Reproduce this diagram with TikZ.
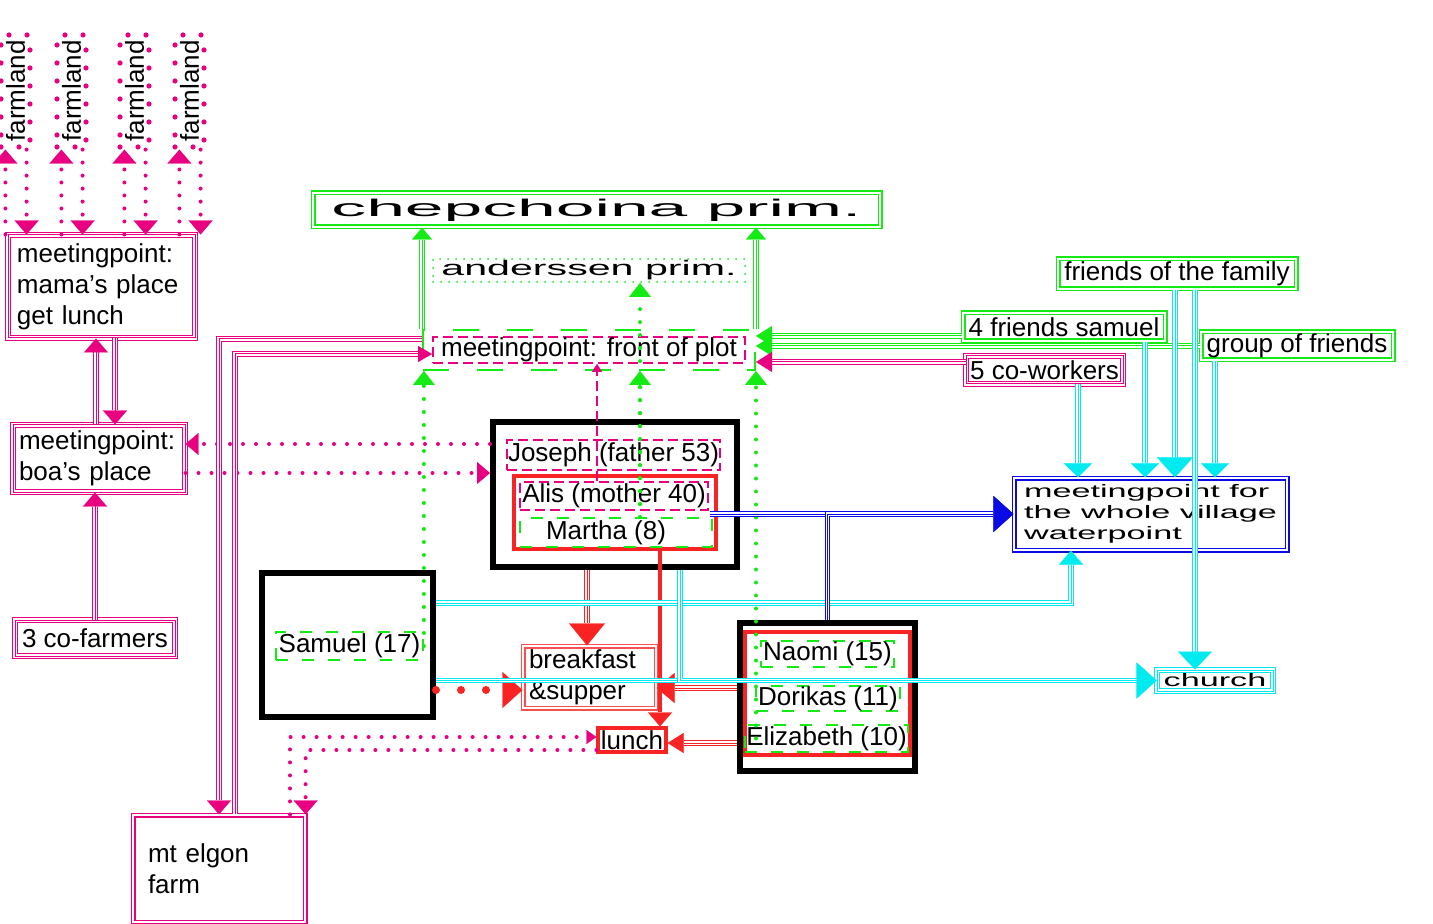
\documentclass[tikz,border=0pt]{standalone}
\usepackage{graphicx}
\usepackage{fontspec}
\setmainfont{Liberation Sans}
\usetikzlibrary{arrows.meta}
\usepackage{xcolor}

\definecolor{mpink}{RGB}{232,0,128}
\definecolor{lgreen}{RGB}{20,235,20}
\definecolor{lcyan}{RGB}{0,235,240}
\definecolor{lblue}{RGB}{10,10,230}
\definecolor{lred}{RGB}{250,35,35}
\newcommand{\widetext}[2]{\scalebox{#1}[1]{#2}}

\begin{document}
\begin{tikzpicture}[x=0.5pt, y=-0.5pt,
    every node/.style={inner sep=0pt, font=\fontsize{13}{15.5}\selectfont},
    boxsize/.style 2 args={minimum width=#1, minimum height=#2},
    tbox/.style={draw=#1, line width=0.5pt, preaction={draw=#1, double=white, double distance=2pt, line width=0.5pt}},
    dbox/.style={draw=#1, line width=0.6pt, double=white, double distance=1.3pt},
    family/.style={draw=black, line width=3pt},
    pdash/.style={draw=mpink, line width=0.9pt, dash pattern=on 5pt off 2.5pt},
    gdash/.style={draw=lgreen, line width=0.9pt, dash pattern=on 6pt off 7pt},
    dotline/.style={line width=2pt, line cap=round, dash pattern=on 0pt off 6.5pt},
    tip/.style 2 args={-{Triangle[width=#1,length=#2,line width=0.1pt]}},
    link/.style 2 args={color=#1, line width=0.5pt, preaction={draw=#1, arrows=-, double=white, double distance=1.6pt, shorten >=#2}}]

    \useasboundingbox (0,0) rectangle (1433,924);

    % Farmland plots and the meeting points on the left
    \foreach \n/\x in {fa/15.5, fb/71.5, fc/134.5, fd/189.5}
        \node[draw=mpink, dotline, line width=2.6pt, dash pattern=on 0pt off 9pt, boxsize={14.5pt}{56pt}] (\n) at (\x,91) {\rotatebox{90}{farmland}};
    \node[tbox=mpink, text width=84.5pt, inner xsep=4.5pt, minimum height=51.5pt, align=left] (mama) at (101.5,286.5) {meetingpoint:\\mama’s place\\get lunch};
    \node[tbox=mpink, text width=80pt, inner xsep=3pt, minimum height=33.5pt, align=left] (boa) at (99,458.5) {meetingpoint:\\boa’s place};
    \node[tbox=mpink, boxsize={80pt}{18pt}] (cofarm) at (95,638) {3 co-farmers};
    \node[dbox=mpink, text width=71pt, inner xsep=7.5pt, minimum height=53.5pt, align=left] (elgon) at (219,868.5) {mt elgon\\farm};

    % Schools and the plot
    \node[dbox=lgreen, boxsize={283.5pt}{17pt}] (chep) at (596.5,210) {\widetext{2.9}{\fontsize{12}{14}\selectfont chepchoina prim.}};
    \node[draw=lgreen, line width=1pt, line cap=round, dash pattern=on 0pt off 4pt, boxsize={156pt}{11.5pt}] (anders) at (589,270.5) {\widetext{1.96}{\fontsize{10.5}{12}\selectfont anderssen prim.}};
    \node[draw=lgreen, line width=1pt, dash pattern=on 13pt off 14pt, boxsize={166pt}{20pt}] (plotg) at (589,350) {};
    \node[pdash, boxsize={156pt}{13pt}] (plot) at (589,350) {meetingpoint: front of plot};

    % Friends and village places
    \node[dbox=lgreen, boxsize={119pt}{15pt}] (ffam) at (1177,274) {friends of the family};
    \node[dbox=lgreen, boxsize={101pt}{14pt}] (four) at (1064,327) {4 friends samuel};
    \node[dbox=lgreen, boxsize={96pt}{14pt}] (group) at (1297,346) {group of friends};
    \node[tbox=mpink, boxsize={78.5pt}{14pt}] (cowork) at (1044.5,370) {5 co-workers};
    \node[dbox=lblue, boxsize={136.5pt}{36pt}, align=left, font=\fontsize{9}{10.5}\selectfont] (water) at (1150.5,514) {\widetext{1.9}{meetingpoint for}\\\widetext{1.9}{the whole village}\\\widetext{1.9}{waterpoint}};
    \node[tbox=lcyan, boxsize={58pt}{10.5pt}, font=\fontsize{9}{10}\selectfont] (church) at (1215,680.5) {\widetext{1.9}{church}};

    % The family
    \node[family, boxsize={122pt}{72.5pt}] (fam) at (615,494.5) {};
    \node[pdash, boxsize={106.5pt}{15pt}] (joseph) at (613.5,455) {Joseph (father 53)};
    \node[draw=lred, line width=2pt, boxsize={101pt}{36.5pt}] (parents) at (615,512.5) {};
    \node[pdash, boxsize={94pt}{14pt}] (alis) at (614,496) {Alis (mother 40)};
    \node[gdash, boxsize={96pt}{14.5pt}] (martha) at (616,532.5) {Martha (8)\hspace*{10pt}};
    \node[family, boxsize={85.5pt}{72pt}] (samuel) at (347.5,645) {};
    \node[gdash, boxsize={73.5pt}{14pt}] (samname) at (349.5,646) {Samuel (17)};
    \node[family, boxsize={87.5pt}{74pt}] (kids) at (827.5,697) {};
    \node[draw=lred, line width=2pt, boxsize={82.5pt}{61.5pt}] (kidsred) at (827.5,693.5) {};
    \node[gdash, boxsize={66.5pt}{13pt}] (naomi) at (827.5,654) {Naomi (15)};
    \node[gdash, boxsize={72pt}{12.5pt}] (dorikas) at (828,698.5) {Dorikas (11)};
    \node[gdash, boxsize={81.5pt}{13.5pt}] (eliz) at (826.5,738.5) {Elizabeth (10)};

    % Meals
    \node[dbox=lred!80, text width=60.5pt, inner xsep=3pt, minimum height=31pt, align=left] (bfast) at (589.5,677) {breakfast\\\&supper};
    \node[draw=lred, line width=1.6pt, boxsize={34pt}{12pt}] (lunch) at (632,740) {lunch};

    % Farmland <-> mama's place
    \foreach \n in {fa,fb,fc,fd}{
        \path ([xshift=3.5pt]\n.south west) coordinate (\n up) ([xshift=-3pt]\n.south east) coordinate (\n dn);
        \draw[mpink, dotline, tip={12pt}{7pt}] (\n up |- mama.north) -- (\n up);
        \draw[mpink, dotline, tip={12pt}{7pt}] (\n dn) -- (\n dn |- mama.north);
    }

    % Left meeting points
    \draw[link={mpink}{7pt}, tip={12pt}{7pt}] ([xshift=-1.5pt]boa.north) -- ([xshift=-1.5pt]boa.north |- mama.south);
    \draw[link={mpink}{7pt}, tip={12pt}{7pt}] ([xshift=6.75pt]mama.south) -- ([xshift=6.75pt]mama.south |- boa.north);
    \draw[link={mpink}{7pt}, tip={12pt}{7pt}] (cofarm.north) -- (cofarm.north |- boa.south);
    \draw[mpink, dotline, tip={11pt}{6.5pt}] ([yshift=25.25pt]fam.west) -- ([yshift=7.25pt]boa.east);
    \draw[mpink, dotline, tip={11pt}{6.5pt}] ([yshift=-7.25pt]boa.east) -- ([yshift=-7.25pt]boa.east -| fam.west);

    % Plot and schools
    \draw[link={lgreen}{6pt}, tip={10pt}{6pt}] (plotg.north west) -- (plotg.north west |- chep.south);
    \draw[link={lgreen}{6pt}, tip={10pt}{6pt}] (plotg.north east) -- (plotg.north east |- chep.south);
    \draw[link={lgreen}{8pt}, tip={10pt}{8pt}] ([yshift=-4.5pt]four.west) -- ([yshift=-4.5pt]four.west -| plotg.east);
    \draw[link={lgreen}{8pt}, tip={10pt}{8pt}] (group.west) -- (group.west -| plotg.east);
    \draw[link={mpink}{8pt}, tip={10pt}{8pt}] ([yshift=4pt]cowork.west) -- ([yshift=4pt]cowork.west -| plotg.east);
    \draw[lgreen, dotline, tip={11pt}{7pt}] (samname.east) -- (samname.east |- plotg.south);
    \draw[lgreen, dotline, tip={11pt}{7pt}] (eliz.west -| plotg.south east) -- (plotg.south east);
    \draw[lgreen, dotline, tip={11pt}{7pt}] ([xshift=12pt]martha.north) -- ([xshift=12pt]martha.north |- plotg.south);
    \draw[lgreen, dotline, tip={11pt}{7pt}] ([xshift=12pt]martha.north) -- ([xshift=12pt]martha.north |- anders.south);
    \draw[mpink, line width=0.9pt, dash pattern=on 5pt off 2.5pt, tip={5pt}{4pt}] ([xshift=-8.5pt]alis.north) -- ([xshift=-8.5pt]alis.north |- plot.south);

    % Plot, lunch <-> mt elgon farm
    \draw[link={mpink}{7pt}, tip={12pt}{7pt}] ([yshift=5.5pt]plotg.west) -| (elgon.north);
    \draw[link={mpink}{7pt}, tip={8pt}{7pt}] ([xshift=8pt]elgon.north) |- ([yshift=-2pt]plot.west);
    \draw[mpink, dotline, tip={7pt}{5pt}] ([xshift=35.5pt]elgon.north) |- ([yshift=1.5pt]lunch.west);
    \draw[mpink, dotline, tip={12pt}{7pt}] ([yshift=-5pt]lunch.west) -| (elgon.north east);

    % Meals
    \draw[link={lred}{11pt}, tip={18pt}{11pt}] ([xshift=-14pt]fam.south) -- ([xshift=-14pt]fam.south |- bfast.north);
    \draw[lred, dotline, line width=4pt, dash pattern=on 0pt off 12.5pt, tip={18pt}{10pt}] ([yshift=-22.5pt]samuel.east) -- ([yshift=-22.5pt]samuel.east -| bfast.west);
    \draw[lred, line width=2pt, tip={12pt}{7pt}] ([xshift=22.5pt]parents.south) -- ([xshift=22.5pt]parents.south |- lunch.north);
    \draw[link={lred}{9pt}, tip={15pt}{9pt}] ([yshift=4.5pt]kids.west) -- ([yshift=4.5pt]kids.west -| bfast.east);
    \draw[link={lred}{8pt}, tip={10pt}{8pt}] ([yshift=-23pt]kids.west) -- ([yshift=-23pt]kids.west -| lunch.east);

    % Waterpoint and church
    \draw[link={lcyan}{7pt}, tip={14pt}{7pt}] ([xshift=16.75pt]cowork.south) -- ([xshift=16.75pt]cowork.south |- water.north);
    \draw[link={lcyan}{7pt}, tip={14pt}{7pt}] ([xshift=40.5pt]four.south) -- ([xshift=40.5pt]four.south |- water.north);
    \draw[link={lcyan}{10pt}, tip={18pt}{10pt}] ([xshift=-1pt]ffam.south) -- ([xshift=-1pt]ffam.south |- water.north);
    \draw[link={lcyan}{7pt}, tip={14pt}{7pt}] ([xshift=-41pt]group.south) -- ([xshift=-41pt]group.south |- water.north);
    \draw[link={lcyan}{9pt}, tip={17pt}{9pt}] ([xshift=9pt]ffam.south) -- ([xshift=9pt]ffam.south |- church.north);
    \draw[link={lcyan}{7pt}, tip={12pt}{7pt}] ([yshift=21pt]samuel.east) -| ([xshift=-39.75pt]water.south);
    \draw[link={lcyan}{10pt}, tip={18pt}{10pt}] ([yshift=-17.75pt]samuel.east) -- ([yshift=-17.75pt]samuel.east -| church.west);
    \draw[link={lcyan}{10pt}, tip={18pt}{10pt}] ([xshift=32.5pt]fam.south) |- (church.west);
    \draw[link={lblue}{10pt}, tip={18pt}{10pt}] ([xshift=-4pt]parents.east |- water.west) -- (water.west);
    \draw[link={lblue}{10pt}, tip={18pt}{10pt}] (kids.north) |- (water.west);

\end{tikzpicture}
\end{document}
